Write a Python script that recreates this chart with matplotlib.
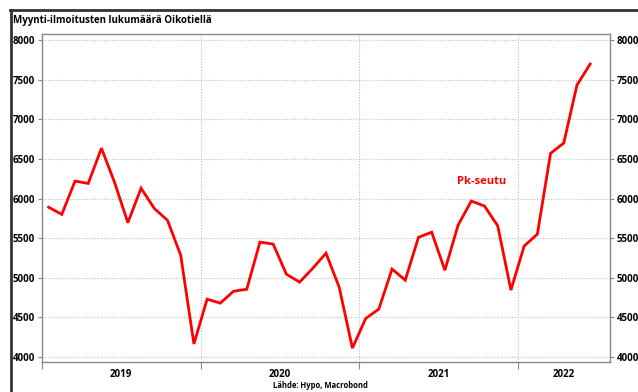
import matplotlib.pyplot as plt
from matplotlib.lines import Line2D
import numpy as np

# Myynti-ilmoitukset kuukausittain, 2019-01 ... 2022-06
values = [5890, 5800, 6220, 6190, 6635, 6200, 5695, 6130, 5875, 5725, 5285, 4165,
          4730, 4680, 4830, 4855, 5450, 5425, 5045, 4945, 5120, 5310, 4880, 4112,
          4485, 4605, 5110, 4970, 5510, 5575, 5095, 5665, 5968, 5905, 5655, 4845,
          5400, 5550, 6570, 6700, 7432, 7697]
years = ['2019', '2020', '2021', '2022']
yticks = [4000, 4500, 5000, 5500, 6000, 6500, 7000, 7500, 8000]

plt.rcParams['font.family'] = ['Open Sans', 'DejaVu Sans']

fig = plt.figure(figsize=(6.38, 3.92), dpi=100)
ax = fig.add_axes([42 / 638, 1 - 362 / 392, (610 - 42) / 638, (362 - 34) / 392])

x = np.arange(len(values)) + 0.5
ax.plot(x, values, color='#ff0000', linewidth=2.0, solid_joinstyle='miter')

ax.set_xlim(0, 43)
ax.set_ylim(3937, 8076)

# y-akselit molemmin puolin
ax.set_yticks(yticks)
ax.tick_params(axis='y', which='both', left=True, right=True, labelleft=True, labelright=True,
               length=3, width=0.8, color='#888888', labelsize=7, pad=2)
for lab in ax.get_yticklabels():
    lab.set_fontweight('bold')

# x-akseli: vuosirajat tikkeinä, vuosiluvut keskelle
ax.set_xticks([0, 12, 24, 36])
ax.set_xticklabels([])
ax.tick_params(axis='x', which='major', length=5, width=0.8, color='#888888')
centers = [6, 18, 30, (36 + 43) / 2]
ax.set_xticks(centers, minor=True)
ax.set_xticklabels(years, minor=True, fontsize=7, fontweight='bold')
ax.tick_params(axis='x', which='minor', length=0, pad=5)

ax.grid(True, which='major', linestyle=(0, (1, 1.5)), color='#bdbdbd', linewidth=0.8)

for s in ax.spines.values():
    s.set_color('#888888')
    s.set_linewidth(1.0)

ax.text(33.3, 6210, 'Pk-seutu', color='#ff0000', fontsize=8, fontweight='bold',
        ha='center', va='center')

fig.text(13 / 638, 1 - 21 / 392, 'Myynti-ilmoitusten lukumäärä Oikotiellä', fontsize=7,
         fontweight='bold', ha='left', va='center')
fig.text(320 / 638, 1 - 386 / 392, 'Lähde: Hypo, Macrobond', fontsize=5.5,
         fontweight='bold', ha='center', va='center')

# tumma kehys vasemmalla ja ylhäällä
fig.add_artist(Line2D([11 / 638, 11 / 638], [0, 1 - 10 / 392], transform=fig.transFigure,
                      color='#333333', linewidth=2))
fig.add_artist(Line2D([10 / 638, 1], [1 - 10 / 392, 1 - 10 / 392], transform=fig.transFigure,
                      color='#333333', linewidth=2))

fig.savefig('out.png', dpi=100)
